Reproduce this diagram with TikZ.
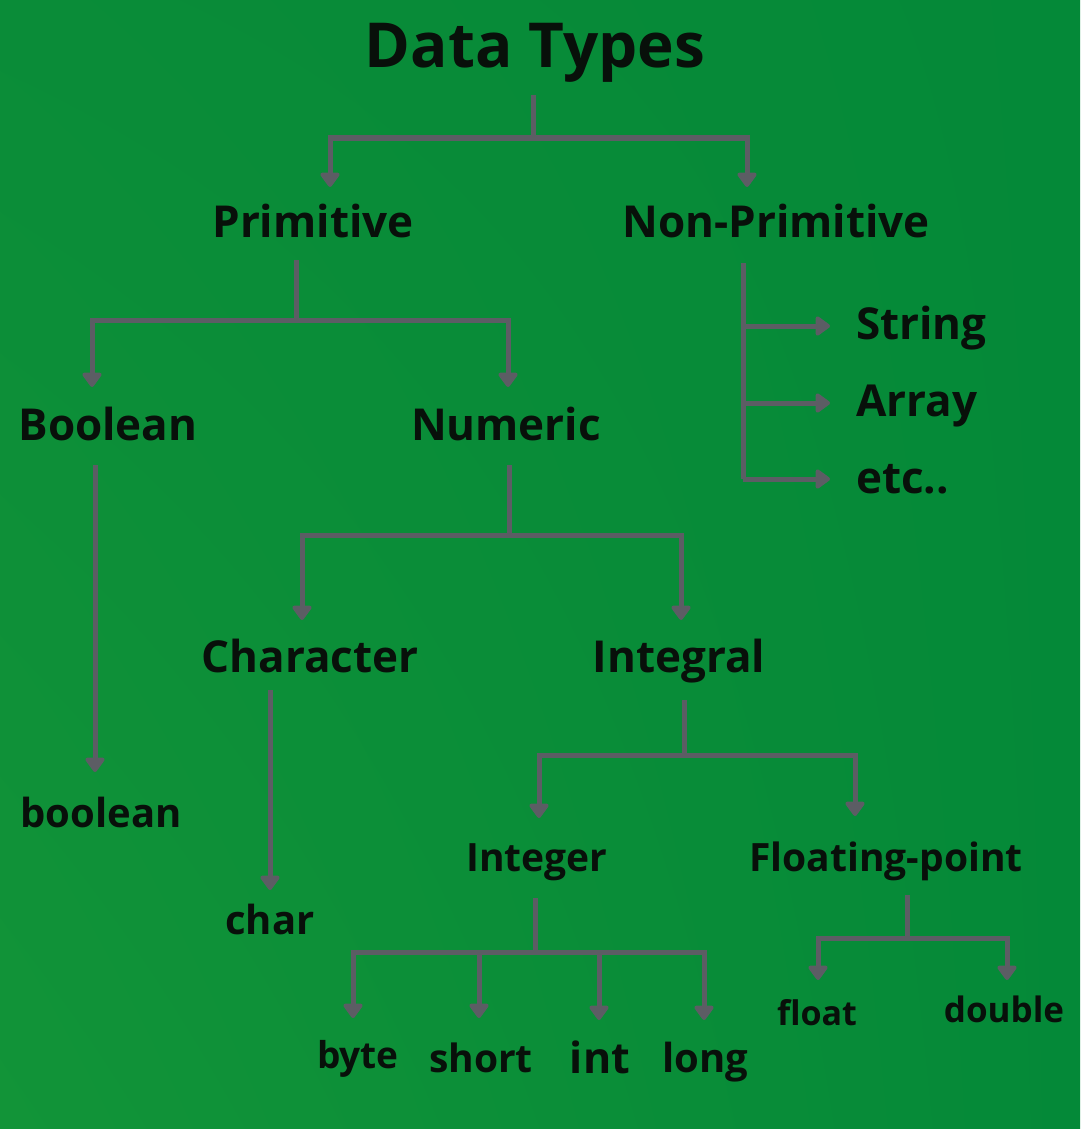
\documentclass[tikz,border=0pt]{standalone}
\usepackage{fontspec}
\setmainfont{Open Sans}
\usetikzlibrary{arrows.meta,shadings}
\definecolor{bgUL}{RGB}{10,140,56}
\definecolor{bgUR}{RGB}{4,137,56}
\definecolor{bgLL}{RGB}{18,148,56}
\definecolor{bgLR}{RGB}{4,137,56}
\definecolor{ink}{RGB}{8,16,10}
\definecolor{wire}{RGB}{92,93,100}
\tikzset{
  lbl/.style={anchor=base, text=ink, inner sep=0pt, font=\bfseries\fontsize{#1}{#1}\selectfont},
  conn/.style={draw=wire, line width=5pt},
  tipconn/.style={conn, -{Triangle[width=22pt,length=16pt,line join=round]}},
}
\begin{document}
\begin{tikzpicture}[x=1pt,y=-1pt]
\shade[upper left=bgUL, upper right=bgUR, lower left=bgLL, lower right=bgLR] (0,0) rectangle (1080,1129);
\useasboundingbox (0,0) rectangle (1080,1129);

% labels
\node[lbl=62] (dt) at (535,68) {Data Types};
\node[lbl=44] (prim) at (313,237) {Primitive};
\node[lbl=44] (nonprim) at (776,237) {Non-Primitive};
\node[lbl=44,anchor=base west] (str) at (856,339) {String};
\node[lbl=44,anchor=base west] (arr) at (856,416) {Array};
\node[lbl=44,anchor=base west] (etc) at (856,493) {etc..};
\node[lbl=44] (bool) at (108,440) {Boolean};
\node[lbl=44] (num) at (506,440) {Numeric};
\node[lbl=44] (chr) at (310,672) {Character};
\node[lbl=44] (integral) at (679,672) {Integral};
\node[lbl=40] (boolv) at (101,827) {boolean};
\node[lbl=40] (charv) at (270,934) {char};
\node[lbl=39] (integer) at (537,871) {Integer};
\node[lbl=39] (fp) at (886,871) {Floating-point};
\node[lbl=37] (byte) at (358,1068) {byte};
\node[lbl=39] (short) at (481,1072) {short};
\node[lbl=43] (int) at (600,1073) {int};
\node[lbl=40] (long) at (705,1072) {long};
\node[lbl=34] (float) at (817,1025) {float};
\node[lbl=35] (double) at (1004,1022) {double};

% connector end points
\coordinate (dt-s) at (533,95);      \coordinate (dt-j) at (533,138);
\coordinate (prim-n) at (330,187);   \coordinate (nonprim-n) at (747,187);
\coordinate (prim-s) at (296,260);   \coordinate (prim-j) at (296,320);
\coordinate (bool-n) at (92,387);    \coordinate (num-n) at (508,387);
\coordinate (nonprim-s) at (743,263);\coordinate (nonprim-e) at (743,479);
\coordinate (str-w) at (830,326);    \coordinate (arr-w) at (830,403);  \coordinate (etc-w) at (830,479);
\coordinate (bool-s) at (95,465);    \coordinate (boolv-n) at (95,772);
\coordinate (num-s) at (509,465);    \coordinate (num-j) at (509,535);
\coordinate (chr-n) at (302,620);    \coordinate (integral-n) at (681,620);
\coordinate (chr-s) at (270,690);    \coordinate (charv-n) at (270,890);
\coordinate (integral-s) at (684,700); \coordinate (integral-j) at (684,755);
\coordinate (integer-n) at (539,818);  \coordinate (fp-n) at (855,816);
\coordinate (integer-s) at (535,898);  \coordinate (integer-j) at (535,952);
\coordinate (byte-n) at (353,1018);  \coordinate (short-n) at (479,1018);
\coordinate (int-n) at (599,1020);   \coordinate (long-n) at (704,1020);
\coordinate (fp-s) at (907,895);     \coordinate (fp-j) at (907,938);
\coordinate (float-n) at (818,980);  \coordinate (double-n) at (1007,980);

% connectors
\draw[conn] (dt-s) -- (dt-j);
\draw[tipconn] (dt-j) -| (prim-n);
\draw[tipconn] (dt-j) -| (nonprim-n);

\draw[conn] (prim-s) -- (prim-j);
\draw[tipconn] (prim-j) -| (bool-n);
\draw[tipconn] (prim-j) -| (num-n);

\draw[conn] (nonprim-s) -- (nonprim-e);
\draw[tipconn] (nonprim-s |- str-w) -- (str-w);
\draw[tipconn] (nonprim-s |- arr-w) -- (arr-w);
\draw[tipconn] (nonprim-e) -- (etc-w);

\draw[tipconn] (bool-s) -- (boolv-n);

\draw[conn] (num-s) -- (num-j);
\draw[tipconn] (num-j) -| (chr-n);
\draw[tipconn] (num-j) -| (integral-n);

\draw[tipconn] (chr-s) -- (charv-n);

\draw[conn] (integral-s) -- (integral-j);
\draw[tipconn] (integral-j) -| (integer-n);
\draw[tipconn] (integral-j) -| (fp-n);

\draw[conn] (integer-s) -- (integer-j);
\draw[tipconn] (integer-j) -| (byte-n);
\draw[tipconn] (integer-j) -| (short-n);
\draw[tipconn] (integer-j) -| (int-n);
\draw[tipconn] (integer-j) -| (long-n);

\draw[conn] (fp-s) -- (fp-j);
\draw[tipconn] (fp-j) -| (float-n);
\draw[tipconn] (fp-j) -| (double-n);
\end{tikzpicture}
\end{document}
